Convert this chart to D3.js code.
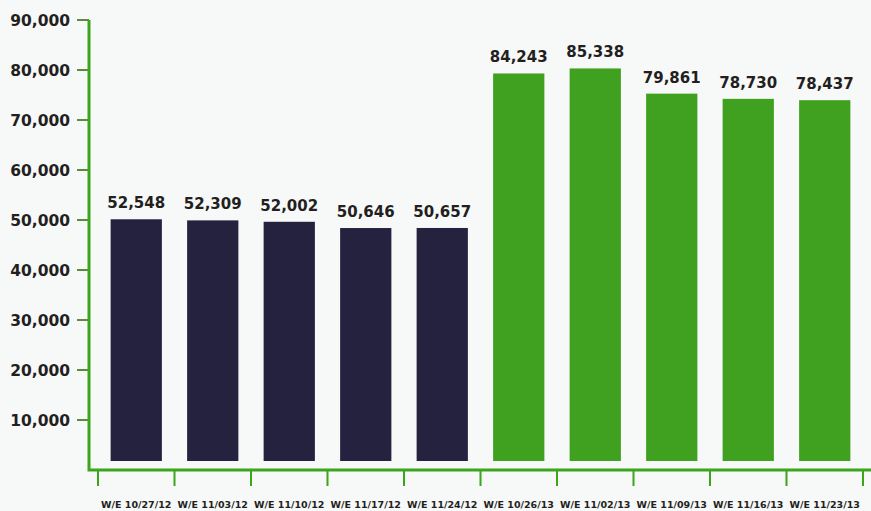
<!DOCTYPE html>
<html>
<head>
<meta charset="utf-8">
<script src="https://cdn.jsdelivr.net/npm/d3@7"></script>
<style>
  html, body { margin: 0; padding: 0; background: #f7f8f8; }
  #chart { width: 871px; height: 511px; }
  text { font-family: "DejaVu Sans", sans-serif; font-weight: bold; fill: #231f20; }
</style>
</head>
<body>
<div id="chart"></div>
<script>
const weeks = ["W/E 10/27/12", "W/E 11/03/12", "W/E 11/10/12", "W/E 11/17/12", "W/E 11/24/12",
               "W/E 10/26/13", "W/E 11/02/13", "W/E 11/09/13", "W/E 11/16/13", "W/E 11/23/13"];
const viewers = [52548, 52309, 52002, 50646, 50657, 84243, 85338, 79861, 78730, 78437];
const season = ["2012", "2012", "2012", "2012", "2012", "2013", "2013", "2013", "2013", "2013"];
const yTicks = [10000, 20000, 30000, 40000, 50000, 60000, 70000, 80000, 90000];

const seasonColors = { "2012": "#25223f", "2013": "#40a020" };
const axisGreen = "#3ba51c";

const width = 871, height = 511;
const svg = d3.select("#chart").append("svg")
    .attr("width", width)
    .attr("height", height);

const x = d3.scaleBand()
    .domain(weeks)
    .range([98, 863])
    .paddingInner(0.33)
    .paddingOuter(0.165);

// tick labels and bar heights don't quite agree in the original, so two scales
const yAxis = d3.scaleLinear().domain([0, 90000]).range([470, 20]);
const yBar = d3.scaleLinear().domain([0, 100000]).range([461, 1]);

// y axis labels + small ticks
svg.append("g")
  .selectAll("text")
  .data(yTicks)
  .join("text")
  .attr("x", 70)
  .attr("y", d => yAxis(d))
  .attr("dy", "0.36em")
  .attr("text-anchor", "end")
  .style("font-size", "15.5px")
  .text(d => d3.format(",")(d));

svg.append("g")
  .selectAll("line")
  .data(yTicks)
  .join("line")
  .attr("x1", 77).attr("x2", 89)
  .attr("y1", d => yAxis(d)).attr("y2", d => yAxis(d))
  .attr("stroke", "#5f8a3c")
  .attr("stroke-width", 2);

// bars
svg.append("g")
  .selectAll("rect")
  .data(viewers)
  .join("rect")
  .attr("x", (d, i) => x(weeks[i]))
  .attr("y", d => yBar(d))
  .attr("width", x.bandwidth())
  .attr("height", d => yBar(0) - yBar(d))
  .attr("fill", (d, i) => seasonColors[season[i]]);

// value labels
svg.append("g")
  .selectAll("text")
  .data(viewers)
  .join("text")
  .attr("x", (d, i) => x(weeks[i]) + x.bandwidth() / 2)
  .attr("y", d => yBar(d) - 11)
  .attr("text-anchor", "middle")
  .style("font-size", "15px")
  .text(d => d3.format(",")(d));

// axis lines
svg.append("path")
  .attr("d", `M89,${yAxis(90000)} V${yAxis(0)} H${width}`)
  .attr("fill", "none")
  .attr("stroke", axisGreen)
  .attr("stroke-width", 3);

// x ticks at band boundaries
const step = x.step();
const bounds = weeks.map(w => x(w) - step * x.paddingInner() / 2).concat([863]);
svg.append("g")
  .selectAll("line")
  .data(bounds)
  .join("line")
  .attr("x1", d => d).attr("x2", d => d)
  .attr("y1", yAxis(0)).attr("y2", yAxis(0) + 16)
  .attr("stroke", axisGreen)
  .attr("stroke-width", 2);

// x labels
svg.append("g")
  .selectAll("text")
  .data(weeks)
  .join("text")
  .attr("x", d => x(d) + x.bandwidth() / 2)
  .attr("y", 508)
  .attr("text-anchor", "middle")
  .style("font-size", "9.5px")
  .text(d => d);
</script>
</body>
</html>
